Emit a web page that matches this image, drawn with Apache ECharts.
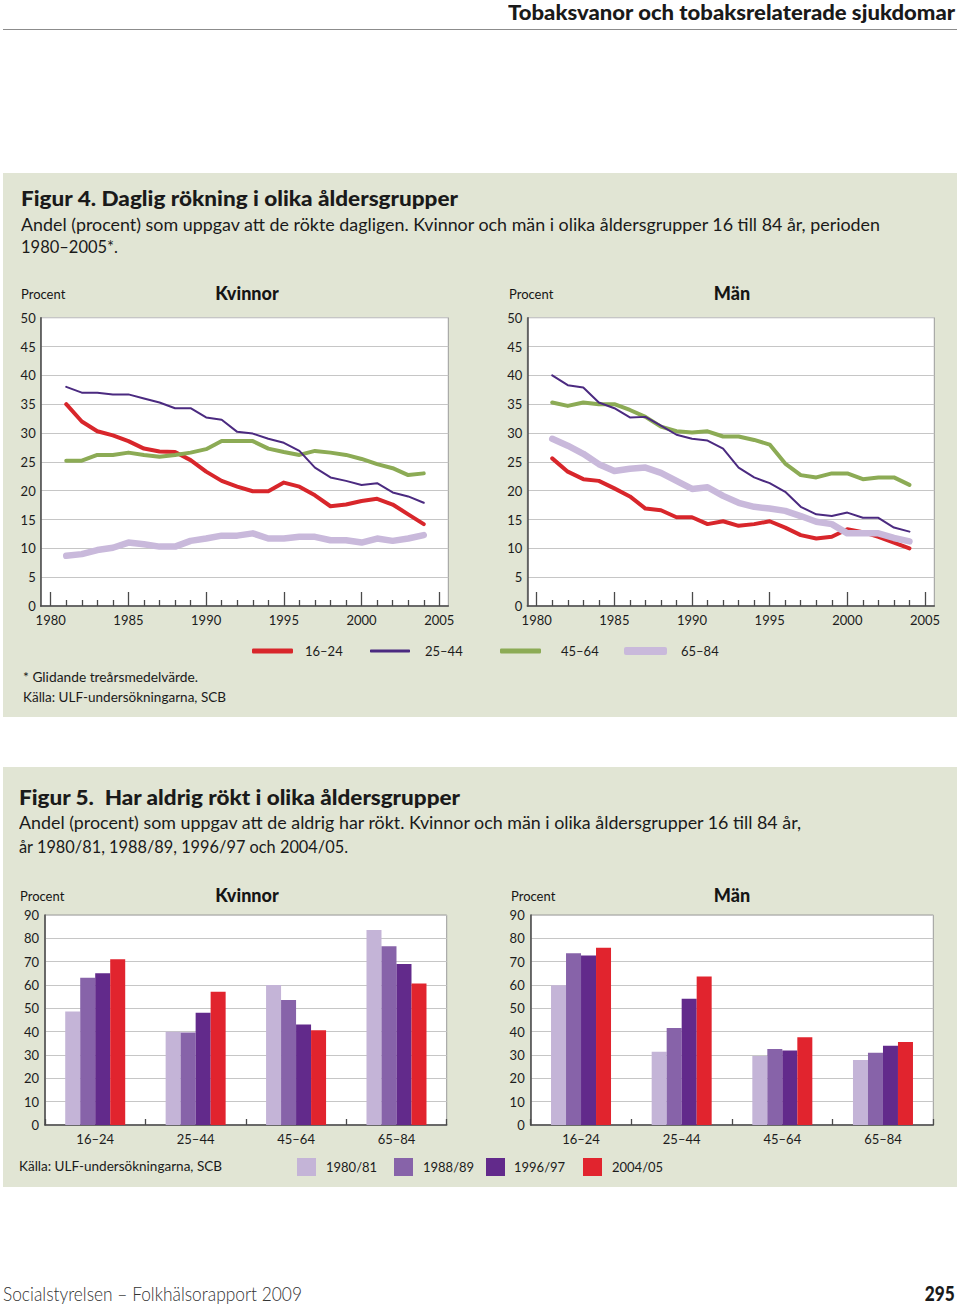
<!DOCTYPE html>
<html><head><meta charset="utf-8">
<script src="https://cdn.jsdelivr.net/npm/echarts@6/dist/echarts.min.js"></script>
<style>
html,body{margin:0;padding:0;background:#fff;width:960px;height:1307px;overflow:hidden;font-family:Lato,'Open Sans',sans-serif;color:#1a1a1a}
.t{position:absolute;white-space:nowrap;}
.b{font-weight:900}
.panel{position:absolute;left:3px;width:954px;background:#e1e5d4}
#chart{position:absolute;left:0;top:0;width:960px;height:1307px}
</style></head><body>
<div style="position:absolute;left:3px;top:29px;width:954px;height:0;border-top:1.5px solid #8c8c8c"></div>
<div class="panel" style="top:173px;height:544px"></div>
<div class="panel" style="top:767px;height:420px"></div>

<div class="t b" data-w="447" data-align="right" style="right:5px;top:2px;font-size:20px;line-height:20px">Tobaksvanor och tobaksrelaterade sjukdomar</div>

<div class="t b" data-w="437" style="left:21px;top:188px;font-size:20px;line-height:20px">Figur 4. Daglig rökning i olika åldersgrupper</div>
<div class="t" data-w="859" style="left:21px;top:215px;font-size:18px;line-height:18px">Andel (procent) som uppgav att de rökte dagligen. Kvinnor och män i olika åldersgrupper 16 till 84 år, perioden</div>
<div class="t" data-w="97" style="left:21px;top:237px;font-size:18px;line-height:18px">1980–2005*.</div>
<div class="t" data-w="175" style="left:23px;top:670px;font-size:14px;line-height:14px">* Glidande treårsmedelvärde.</div>
<div class="t" data-w="203" style="left:23px;top:690px;font-size:14px;line-height:14px">Källa: ULF-undersökningarna, SCB</div>

<div class="t b" data-w="441" style="left:19px;top:787px;font-size:20px;line-height:20px">Figur 5.&nbsp; Har aldrig rökt i olika åldersgrupper</div>
<div class="t" data-w="782" style="left:19px;top:813px;font-size:18px;line-height:18px">Andel (procent) som uppgav att de aldrig har rökt. Kvinnor och män i olika åldersgrupper 16 till 84 år,</div>
<div class="t" data-w="329" style="left:19px;top:837px;font-size:18px;line-height:18px">år 1980/81, 1988/89, 1996/97 och 2004/05.</div>
<div class="t" data-w="203" style="left:19px;top:1159px;font-size:14px;line-height:14px">Källa: ULF-undersökningarna, SCB</div>

<div class="t" data-w="299" style="left:3px;top:1283px;font-size:20px;line-height:20px;font-weight:300;color:#333">Socialstyrelsen – Folkhälsorapport 2009</div>
<div class="t b" data-w="30" data-align="right" style="right:5px;top:1283px;font-size:20px;line-height:20px">295</div>

<div id="chart"></div>
<script>
// ---------- DATA ----------
const years = [1981,1982,1983,1984,1985,1986,1987,1988,1989,1990,1991,1992,1993,1994,1995,1996,1997,1998,1999,2000,2001,2002,2003,2004];
const majorYears = [1980,1985,1990,1995,2000,2005];
const minorYears = [1981,1982,1983,1984,1986,1987,1988,1989,1991,1992,1993,1994,1996,1997,1998,1999,2001,2002,2003,2004];
const lineGroups = ['16–24','25–44','45–64','65–84'];

const kvinnor16_24 = [35.0,32.0,30.3,29.6,28.6,27.3,26.8,26.7,25.3,23.3,21.7,20.7,19.9,19.9,21.4,20.7,19.2,17.3,17.6,18.2,18.6,17.6,15.9,14.2];
const kvinnor25_44 = [38.0,37.0,37.0,36.7,36.7,36.0,35.3,34.3,34.3,32.7,32.3,30.2,29.9,29.0,28.3,26.9,24.0,22.3,21.7,21.0,21.3,19.7,19.0,17.9];
const kvinnor45_64 = [25.2,25.2,26.2,26.2,26.6,26.2,25.9,26.2,26.6,27.2,28.6,28.6,28.6,27.3,26.7,26.2,26.9,26.6,26.2,25.5,24.6,23.9,22.7,23.0];
const kvinnor65_84 = [8.7,9.0,9.7,10.1,11.0,10.7,10.3,10.3,11.3,11.7,12.2,12.2,12.6,11.7,11.7,12.0,12.0,11.4,11.4,11.0,11.7,11.3,11.7,12.3];

const man16_24 = [25.6,23.3,22.0,21.7,20.4,19.0,16.9,16.6,15.4,15.4,14.2,14.7,13.9,14.2,14.7,13.6,12.3,11.7,12.0,13.3,12.8,12.0,11.0,10.0];
const man25_44 = [40.0,38.3,37.9,35.3,34.3,32.7,32.8,31.3,29.7,29.0,28.7,27.3,24.0,22.3,21.3,19.8,17.2,15.9,15.6,16.2,15.3,15.3,13.6,12.9];
const man45_64 = [35.3,34.7,35.3,35.0,35.0,34.0,32.8,31.1,30.3,30.1,30.3,29.4,29.4,28.8,28.0,24.7,22.7,22.3,23.0,23.0,22.0,22.3,22.3,21.0];
const man65_84 = [29.0,27.8,26.4,24.6,23.4,23.8,24.0,23.1,21.7,20.3,20.6,19.1,17.9,17.2,16.9,16.5,15.6,14.6,14.2,12.6,12.6,12.6,11.8,11.2];

const ageGroups = ['16–24','25–44','45–64','65–84'];
const surveyYears = ['1980/81','1988/89','1996/97','2004/05'];
const kvinnorNever1980 = [48.6,40.0,60.0,83.6];
const kvinnorNever1988 = [63.1,39.6,53.6,76.6];
const kvinnorNever1996 = [65.0,48.1,43.1,69.0];
const kvinnorNever2004 = [71.0,57.1,40.6,60.6];
const manNever1980 = [59.9,31.4,29.6,27.9];
const manNever1988 = [73.6,41.6,32.6,31.0];
const manNever1996 = [72.6,54.1,31.9,34.0];
const manNever2004 = [76.0,63.6,37.6,35.6];

// ---------- STYLE ----------
const AX = '#4a4a4a', GRIDC = '#c6c6c6', FRAME = '#9a9a9a', LBL = '#1c1c1c';
const lineColors = ['#d8262b','#4b2a80','#8cab55','#c9b9db'];
const lineWidths = [4,2,4,6.5];
const barColors = ['#c4b4d7','#8763a9','#622a8b','#e1242e'];

function pairs(vals){ return years.map((y,i)=>[y, vals[i]]); }

function grid(l,t,w,h){ return {left:l, top:t, width:w, height:h, show:true, backgroundColor:'#ffffff', borderColor:FRAME, borderWidth:1}; }
function yearAxis(gi,min,max){ return {type:'value', gridIndex:gi, position:'bottom', min, max,
  axisLine:{show:true, onZero:false, lineStyle:{color:AX,width:1.5}},
  axisTick:{show:true, inside:true, length:14, customValues:majorYears, lineStyle:{color:AX,width:1.3}},
  axisLabel:{show:true, customValues:majorYears, margin:7, fontSize:13, color:LBL, formatter:v=>String(v)},
  splitLine:{show:false}}; }
function minorAxis(gi,min,max){ return {type:'value', gridIndex:gi, position:'bottom', min, max,
  axisLine:{show:false},
  axisTick:{show:true, inside:true, length:6, customValues:minorYears, lineStyle:{color:AX,width:1.3}},
  axisLabel:{show:false}, splitLine:{show:false}}; }
function catAxis(gi){ return {type:'category', gridIndex:gi, data:ageGroups,
  axisLine:{show:true, lineStyle:{color:AX,width:1.5}},
  axisTick:{show:true, inside:true, length:6, alignWithLabel:false, lineStyle:{color:AX,width:1.3}},
  axisLabel:{margin:7, fontSize:13, color:LBL}}; }
function pctAxis(gi,max,interval,margin){ return {type:'value', gridIndex:gi, min:0, max, interval,
  axisLine:{show:true, lineStyle:{color:AX,width:1.5}}, axisTick:{show:false},
  axisLabel:{margin, fontSize:13, color:LBL},
  splitLine:{show:true, lineStyle:{color:GRIDC,width:1}}}; }

function lineSeries(idx, vals, xi, yi){ return {type:'line', name:lineGroups[idx], xAxisIndex:xi, yAxisIndex:yi,
  data:pairs(vals), symbol:'none', color:lineColors[idx],
  lineStyle:{color:lineColors[idx], width:lineWidths[idx], cap:'round', join:'round'}, z:[1,4,3,5][idx]}; }
function barSeries(idx, vals, xi, yi){ return {type:'bar', name:surveyYears[idx], xAxisIndex:xi, yAxisIndex:yi,
  data:vals, barWidth:15, barGap:'0%', color:barColors[idx], itemStyle:{color:barColors[idx]}}; }

function lineLegend(name, left, w, h, pad){ return {data:[name], left, top:643, padding:0, orient:'horizontal',
  icon:'roundRect', itemWidth:w, itemHeight:h, selectedMode:false, itemStyle:{borderWidth:0},
  textStyle:{fontSize:13, color:LBL, lineHeight:16, padding:[0,0,0,pad]}}; }
function barLegend(name, left, pad){ return {data:[name], left, top:1158, padding:0,
  icon:'rect', itemWidth:19, itemHeight:18, selectedMode:false, itemStyle:{borderWidth:0},
  textStyle:{fontSize:13, color:LBL, lineHeight:18, padding:[0,0,0,pad]}}; }

function label(x,y,text,size,bold,align){ return {type:'text', x, y, silent:true,
  style:{text, fontSize:size, fontWeight:bold?900:'normal', fontFamily:'Lato', fill:'#151515', align:align||'left', verticalAlign:'middle'}}; }

const option = {
  animation:false,
  textStyle:{fontFamily:'Lato'},
  grid:[ grid(40.7,317.7,407.6,288.3), grid(527.3,317.7,407,288.3), grid(45,915,401.7,210), grid(530.7,915,402.6,210) ],
  xAxis:[ yearAxis(0,1979.357,2005.579), minorAxis(0,1979.357,2005.579),
          yearAxis(1,1979.395,2005.599), minorAxis(1,1979.395,2005.599),
          catAxis(2), catAxis(3) ],
  yAxis:[ pctAxis(0,50,5,5), pctAxis(1,50,5,5), pctAxis(2,90,10,6), pctAxis(3,90,10,6) ],
  legend:[ lineLegend('16–24',252,41,5,7), lineLegend('25–44',370,40,3,10), lineLegend('45–64',500,41,5,15), lineLegend('65–84',624,43,8,9),
           barLegend('1980/81',297,5), barLegend('1988/89',394,5), barLegend('1996/97',486,4), barLegend('2004/05',583,5) ],
  graphic:[
    label(21,294,'Procent',13,false), label(247,293,'Kvinnor',18,true,'center'),
    label(509,294,'Procent',13,false), label(732,293,'Män',18,true,'center'),
    label(20,896,'Procent',13,false), label(247,895,'Kvinnor',18,true,'center'),
    label(511,896,'Procent',13,false), label(732,895,'Män',18,true,'center')
  ],
  series:[
    lineSeries(3,kvinnor65_84,0,0), lineSeries(2,kvinnor45_64,0,0), lineSeries(1,kvinnor25_44,0,0), lineSeries(0,kvinnor16_24,0,0),
    lineSeries(3,man65_84,2,1), lineSeries(2,man45_64,2,1), lineSeries(1,man25_44,2,1), lineSeries(0,man16_24,2,1),
    barSeries(0,kvinnorNever1980,4,2), barSeries(1,kvinnorNever1988,4,2), barSeries(2,kvinnorNever1996,4,2), barSeries(3,kvinnorNever2004,4,2),
    barSeries(0,manNever1980,5,3), barSeries(1,manNever1988,5,3), barSeries(2,manNever1996,5,3), barSeries(3,manNever2004,5,3)
  ]
};
const chart = echarts.init(document.getElementById('chart'), null, {renderer:'svg', width:960, height:1307});
chart.setOption(option);

function fit(){
  document.querySelectorAll('[data-w]').forEach(el=>{
    el.style.transform='none';
    const nat = el.getBoundingClientRect().width;
    const s = (+el.dataset.w)/nat;
    el.style.transformOrigin = el.dataset.align==='right' ? 'right center' : 'left center';
    el.style.transform = 'scaleX('+s.toFixed(4)+')';
  });
}
fit();
if (document.fonts && document.fonts.ready) document.fonts.ready.then(fit);
</script>
</body></html>
